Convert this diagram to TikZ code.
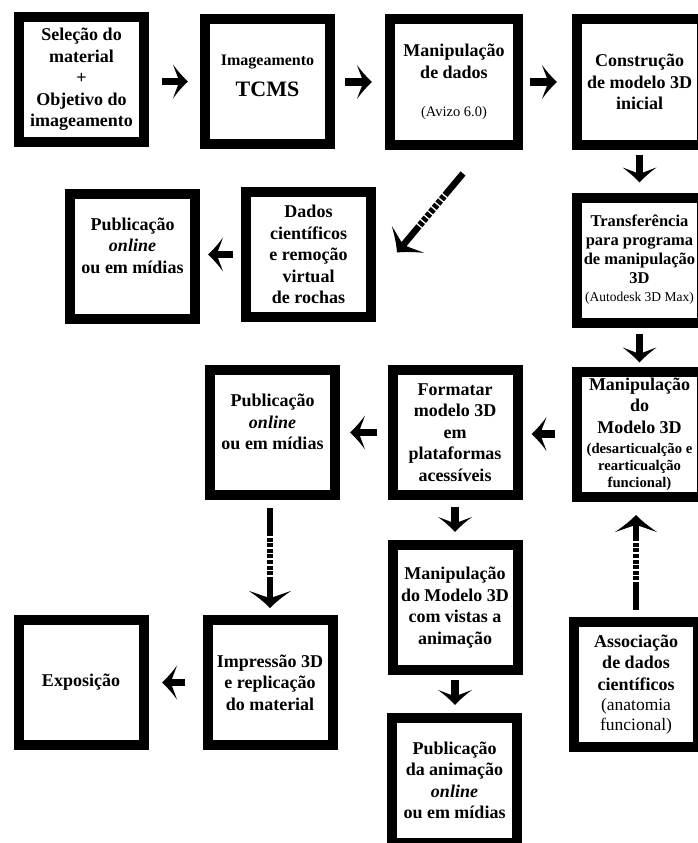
\documentclass[tikz,border=0pt]{standalone}
\usepackage{fontspec}
\setmainfont{Liberation Serif}
\usetikzlibrary{arrows.meta,calc}
\pgfdeclarearrow{
  name = Swoop,
  setup code = {
    \pgfarrowssettipend{0pt}
    \pgfarrowssetlineend{-0.55\pgfarrowlength}
    \pgfarrowssetbackend{-\pgfarrowlength}
    \pgfarrowshullpoint{0pt}{0pt}
    \pgfarrowsupperhullpoint{-\pgfarrowlength}{.5\pgfarrowwidth}
    \pgfarrowssavethe\pgfarrowlength
    \pgfarrowssavethe\pgfarrowwidth
  },
  drawing code = {
    \pgfpathmoveto{\pgfqpoint{0pt}{0pt}}
    \pgfpathcurveto{\pgfqpoint{-.33\pgfarrowlength}{.13\pgfarrowwidth}}{\pgfqpoint{-.67\pgfarrowlength}{.3\pgfarrowwidth}}{\pgfqpoint{-\pgfarrowlength}{.5\pgfarrowwidth}}
    \pgfpathcurveto{\pgfqpoint{-.85\pgfarrowlength}{.3\pgfarrowwidth}}{\pgfqpoint{-.65\pgfarrowlength}{.12\pgfarrowwidth}}{\pgfqpoint{-.6\pgfarrowlength}{0pt}}
    \pgfpathcurveto{\pgfqpoint{-.65\pgfarrowlength}{-.12\pgfarrowwidth}}{\pgfqpoint{-.85\pgfarrowlength}{-.3\pgfarrowwidth}}{\pgfqpoint{-\pgfarrowlength}{-.5\pgfarrowwidth}}
    \pgfpathcurveto{\pgfqpoint{-.67\pgfarrowlength}{-.3\pgfarrowwidth}}{\pgfqpoint{-.33\pgfarrowlength}{-.13\pgfarrowwidth}}{\pgfqpoint{0pt}{0pt}}
    \pgfpathclose
    \pgfusepathqfill
  },
  parameters = {\the\pgfarrowlength,\the\pgfarrowwidth},
  defaults = {length=14pt, width=32pt}
}
\begin{document}
\begin{tikzpicture}[x=1pt,y=-1pt,
 box/.style={draw, line width=10pt, minimum width=125pt, minimum height=125pt, inner sep=0pt, align=center, font=\bfseries\fontsize{18}{21.5}\selectfont},
 arr/.style={line width=7.5pt, -{Swoop[length=15pt,width=34pt]}},
 darr/.style={line width=6.5pt, -{Swoop[length=17pt,width=42pt]},
   dash pattern=on 28pt off 1.6pt on 4pt off 1.6pt on 4pt off 1.6pt on 4pt off 1.6pt on 4pt off 1.6pt on 4pt off 1.6pt on 4pt off 1.6pt on 4pt off 1.6pt on 300pt off 1pt}
]
\useasboundingbox (0,0) rectangle (697,843);

% boxes
\node[box] (sel) at (81.5,79.5) {Seleção do\\material\\+\\Objetivo do\\imageamento};
\node[box] (img) at (267.5,81.5) {{\fontsize{16}{19}\selectfont Imageamento}\\[10pt]{\fontsize{22}{24}\selectfont TCMS}\\[-10pt]\mbox{}};
\node[box, minimum width=128pt] (man) at (454,82) {Manipulação\\de dados\\[17pt]{\normalfont\fontsize{14.5}{17}\selectfont (Avizo 6.0)}};
\node[box] (con) at (639.5,82) {Construção\\de modelo 3D\\inicial};
\node[box, font=\bfseries\fontsize{16.5}{19}\selectfont] (tra) at (639.5,260) {Transferência\\para programa\\de manipulação\\3D\\[-1pt]{\normalfont\fontsize{13.5}{16}\selectfont (Autodesk 3D Max)}};
\node[box] (dad) at (308.5,254.5) {Dados\\científicos\\e remoção\\virtual\\de rochas};
\node[box] (pub2) at (132.5,256) {Publicação\\\textit{online}\\ou em mídias\\\mbox{}};
\node[box] (mm) at (639.5,434) {Manipulação\\do\\Modelo 3D\\[-1.5pt]{\fontsize{14.7}{17}\selectfont (desarticualção e}\\[-4.5pt]{\fontsize{14.7}{17}\selectfont rearticualção}\\[-4.5pt]{\fontsize{14.7}{17}\selectfont funcional)}};
\node[box] (fmt) at (455,432.5) {Formatar\\modelo 3D\\em\\plataformas\\acessíveis};
\node[box] (pub3) at (272.5,432.5) {Publicação\\\textit{online}\\ou em mídias\\\mbox{}};
\node[box] (anim) at (455,607.5) {Manipulação\\do Modelo 3D\\com vistas a\\animação};
\node[box] (pubA) at (454.5,780.5) {Publicação\\da animação\\\textit{online}\\ou em mídias};
\node[box, minimum width=124pt] (ass) at (636,684.5) {Associação\\de dados\\científicos\\[-1pt]{\normalfont\fontsize{17.5}{20}\selectfont (anatomia}\\[-1.5pt]{\normalfont\fontsize{17.5}{20}\selectfont funcional)}};
\node[box] (imp) at (270,682.5) {Impressão 3D\\e replicação\\do material};
\node[box] (exp) at (81,682.5) {Exposição};

% solid arrows
\draw[arr, shorten <=13pt, shorten >=12pt] (img.west -| sel.east) -- (img.west);
\draw[arr, shorten <=10pt, shorten >=13pt] (man.west -| img.east) -- (man.west);
\draw[arr, shorten <=7pt, shorten >=15pt] (man.east) -- (man.east -| con.west);
\draw[arr, shorten <=5pt, shorten >=10pt] (con.south) -- (tra.north);
\draw[arr, shorten <=6pt, shorten >=4pt] (tra.south) -- (tra.south |- mm.north);
\draw[arr, shorten <=8pt, shorten >=8pt] (dad.west) -- (dad.west -| pub2.east);
\draw[arr, shorten <=17pt, shorten >=9pt] (mm.west) -- (mm.west -| fmt.east);
\draw[arr, shorten <=10.5pt, shorten >=10pt] (fmt.west) -- (fmt.west -| pub3.east);
\draw[arr, shorten <=7pt, shorten >=8pt] (fmt.south) -- (fmt.south |- anim.north);
\draw[arr, shorten <=5pt, shorten >=8pt] (anim.south) -- (anim.south |- pubA.north);
\draw[arr, shorten <=17.5pt, shorten >=13.5pt] (imp.west) -- (imp.west -| exp.east);

% dashed arrows
\coordinate (dtail) at ($(man.south)+(9,24)$);
\coordinate (dtip) at ($(dad.east)+(21,-2)$);
\draw[darr] (dtail) -- (dtip);
\draw[darr, shorten <=8pt, shorten >=7pt] (imp.north |- pub3.south) -- (imp.north);
\draw[darr, shorten <=7pt, shorten >=13.5pt] (ass.north) -- (ass.north |- mm.south);
\end{tikzpicture}
\end{document}
